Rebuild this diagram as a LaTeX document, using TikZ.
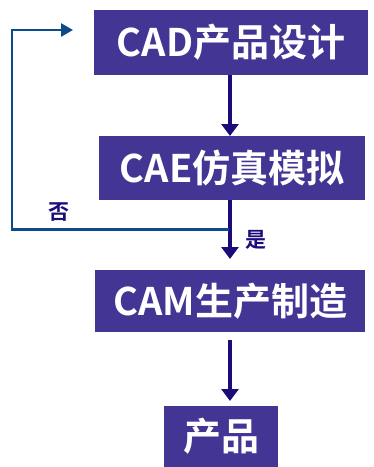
\documentclass[tikz,border=0pt]{standalone}
\usepackage{fontspec}
\setmainfont{Noto Sans CJK SC}[BoldFont={* Black}]
\newfontfamily\cjk{Noto Sans CJK SC}[BoldFont={* Bold}]
\usetikzlibrary{arrows.meta}
\definecolor{boxfill}{HTML}{433593}
\definecolor{arrowcol}{HTML}{1A0D7A}
\definecolor{loopcol}{HTML}{0D4A8C}
\tikzset{
  procbox/.style={fill=boxfill, text=white, font=\cjk\bfseries\fontsize{38}{38}\selectfont, inner sep=0pt, anchor=north west},
  flowarrow/.style={draw=arrowcol, line width=3.5pt, -{Triangle[length=12pt,width=17pt]}},
  loopline/.style={draw=loopcol, line width=2.4pt},
  lbl/.style={text=arrowcol, font=\cjk\bfseries\fontsize{21}{21}\selectfont}
}
\begin{document}
\begin{tikzpicture}[x=1pt,y=-1pt]
\useasboundingbox (0,0) rectangle (374,467);
\node[procbox, minimum width=274pt, minimum height=65pt] (cad) at (94,10) {CAD产品设计};
\node[procbox, minimum width=266pt, minimum height=64pt] (cae) at (99,136) {CAE仿真模拟};
\node[procbox, minimum width=270pt, minimum height=62pt] (cam) at (95,270) {CAM生产制造};
\node[procbox, minimum width=114pt, minimum height=61pt] (prod) at (164,406) {产品};
\coordinate (a1s) at (230,75);
\coordinate (a1e) at (230,136);
\draw[flowarrow] (a1s) -- (a1e);
\coordinate (a2s) at (230,200);
\coordinate (a2e) at (230,259);
\draw[flowarrow] (a2s) -- (a2e);
\coordinate (a3s) at (230,340);
\coordinate (a3e) at (230,401);
\draw[flowarrow] (a3s) -- (a3e);
\coordinate (lp0) at (229,229.5);
\coordinate (lp1) at (12,229.5);
\coordinate (lp2) at (12,30);
\coordinate (lp3) at (73,30);
\draw[loopline, -{Triangle[length=12pt,width=13pt]}] (lp0) -- (lp1) -- (lp2) -- (lp3);
\node[lbl] (no) at (59,212) {否};
\node[lbl] (yes) at (256,240) {是};
\end{tikzpicture}
\end{document}
